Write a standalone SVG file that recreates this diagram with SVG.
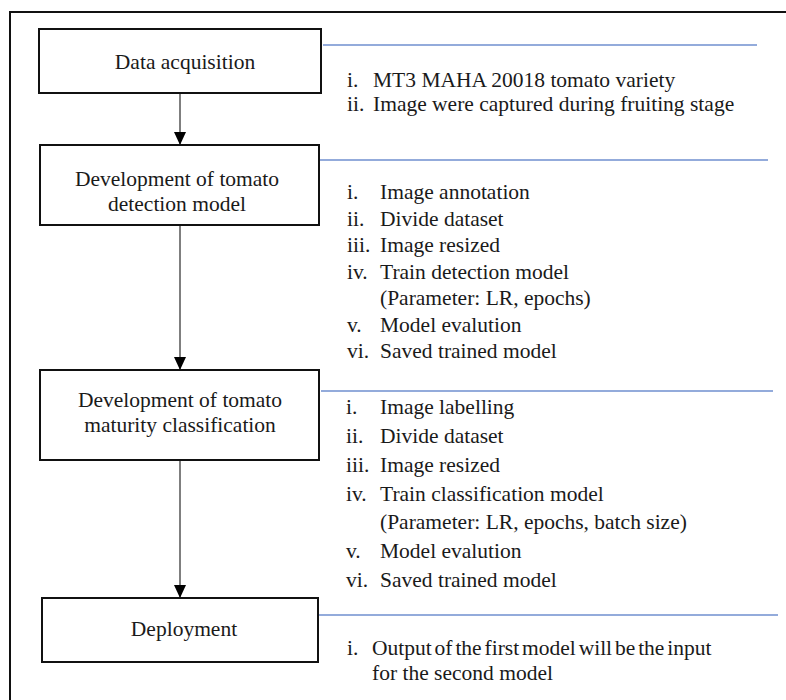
<svg xmlns="http://www.w3.org/2000/svg" width="786" height="700" viewBox="0 0 786 700" font-family="Liberation Serif, Times New Roman, serif">
<defs>
<style>
.t{font-size:21.5px;fill:#1a1a1a}
.c{text-anchor:middle}
.box{fill:#fff;stroke:#111;stroke-width:2}
.blue{stroke:#6f8fcf;stroke-width:1.5;fill:none}
.conn{stroke:#555;stroke-width:1.5;fill:none}
</style>
<marker id="ah" viewBox="0 0 13 12" refX="13" refY="6" markerWidth="13" markerHeight="12" markerUnits="userSpaceOnUse" orient="auto">
<path d="M0,0 L13,6 L0,12 Z" fill="#000"/>
</marker>
</defs>
<rect width="786" height="700" fill="#fff"/>
<g id="frame">
<path d="M10,700 L10,12 L786,12" fill="none" stroke="#111" stroke-width="2"/>
</g>
<g id="connectors">
<line class="conn" x1="180" y1="93" x2="180" y2="145" marker-end="url(#ah)"/>
<line class="conn" x1="180" y1="225" x2="180" y2="370" marker-end="url(#ah)"/>
<line class="conn" x1="180" y1="460" x2="180" y2="598" marker-end="url(#ah)"/>
<line class="blue" x1="323" y1="45" x2="757" y2="45"/>
<line class="blue" x1="320" y1="160" x2="768" y2="160"/>
<line class="blue" x1="321" y1="391" x2="773" y2="391"/>
<line class="blue" x1="319" y1="615" x2="778" y2="615"/>
</g>
<g id="node-data" font-family="Liberation Serif, serif">
<rect class="box" x="39" y="29" width="282" height="64"/>
<text class="t c" x="185" y="69" font-family="Liberation Serif">Data acquisition</text>
</g>
<g id="node-detection" font-family="Liberation Serif, serif">
<rect class="box" x="40" y="145" width="279" height="80"/>
<text class="t c" x="177" y="186">Development of tomato</text>
<text class="t c" x="177" y="211">detection model</text>
</g>
<g id="node-classification" font-family="Liberation Serif, serif">
<rect class="box" x="40" y="370" width="279" height="90"/>
<text class="t c" x="180" y="407">Development of tomato</text>
<text class="t c" x="180" y="432">maturity classification</text>
</g>
<g id="node-deployment" font-family="Liberation Serif, serif">
<rect class="box" x="42" y="598" width="276" height="64"/>
<text class="t c" x="184" y="636">Deployment</text>
</g>
<g id="notes-data" font-family="Liberation Serif, serif">
<text class="t" x="347" y="87">i.</text><text class="t" x="373" y="87">MT3 MAHA 20018 tomato variety</text>
<text class="t" x="347" y="111">ii.</text><text class="t" x="373" y="111">Image were captured during fruiting stage</text>
</g>
<g id="notes-detection" font-family="Liberation Serif, serif">
<text class="t" x="347" y="199">i.</text><text class="t" x="380" y="199">Image annotation</text>
<text class="t" x="347" y="226">ii.</text><text class="t" x="380" y="226">Divide dataset</text>
<text class="t" x="347" y="252">iii.</text><text class="t" x="380" y="252">Image resized</text>
<text class="t" x="347" y="279">iv.</text><text class="t" x="380" y="279">Train detection model</text>
<text class="t" x="380" y="305">(Parameter: LR, epochs)</text>
<text class="t" x="347" y="332">v.</text><text class="t" x="380" y="332">Model evalution</text>
<text class="t" x="347" y="358">vi.</text><text class="t" x="380" y="358">Saved trained model</text>
</g>
<g id="notes-classification" font-family="Liberation Serif, serif">
<text class="t" x="346" y="414">i.</text><text class="t" x="380" y="414">Image labelling</text>
<text class="t" x="346" y="443">ii.</text><text class="t" x="380" y="443">Divide dataset</text>
<text class="t" x="346" y="472">iii.</text><text class="t" x="380" y="472">Image resized</text>
<text class="t" x="346" y="501">iv.</text><text class="t" x="380" y="501">Train classification model</text>
<text class="t" x="380" y="529">(Parameter: LR, epochs, batch size)</text>
<text class="t" x="346" y="558">v.</text><text class="t" x="380" y="558">Model evalution</text>
<text class="t" x="346" y="587">vi.</text><text class="t" x="380" y="587">Saved trained model</text>
</g>
<g id="notes-deployment" font-family="Liberation Serif, serif">
<text class="t" x="347" y="655">i.</text><text class="t" x="372" y="655" word-spacing="-2.5">Output of the first model will be the input</text>
<text class="t" x="372" y="680">for the second model</text>
</g>
</svg>
